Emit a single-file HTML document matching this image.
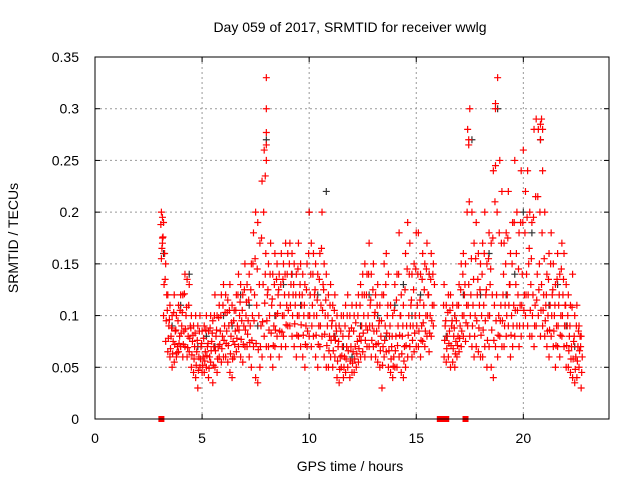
<!DOCTYPE html>
<html><head><meta charset="utf-8"><style>
html,body{margin:0;padding:0;background:#fff;}
svg{display:block;font-family:"Liberation Sans",sans-serif;}
</style></head><body>
<svg id="chart" width="640" height="480" viewBox="0 0 640 480" xmlns="http://www.w3.org/2000/svg">
<rect x="0" y="0" width="640" height="480" fill="#fff"/>
<text x="350" y="32" font-size="14" text-anchor="middle" fill="#000">Day 059 of 2017, SRMTID for receiver wwlg</text>
<text x="350" y="471" font-size="14" text-anchor="middle" fill="#000">GPS time / hours</text>
<text x="18" y="238" font-size="14" text-anchor="middle" fill="#000" transform="rotate(-90 18 238)">SRMTID / TECUs</text>
<g id="grid"></g>
<g id="ticks"></g>
<g id="marks"></g>
<rect x="95" y="57" width="514" height="362" fill="none" stroke="#000" stroke-width="1"/>
</svg>
<script>
const xTicks=[0,5,10,15,20];
const yTicks=[0,0.05,0.1,0.15,0.2,0.25,0.3,0.35];
const yTickLabels=["0","0.05","0.1","0.15","0.2","0.25","0.3","0.35"];
const redTimes=[3.1,3.2,3.3,3.4,3.5,3.6,3.7,3.8,3.9,4.0,4.1,4.2,4.3,4.4,4.5,4.6,4.7,4.8,4.9,5.0,5.1,5.2,5.3,5.4,5.5,5.6,5.7,5.8,5.9,6.0,6.1,6.2,6.3,6.4,6.5,6.6,6.7,6.8,6.9,7.0,7.1,7.2,7.3,7.4,7.5,7.6,7.7,7.8,7.9,8.0,8.1,8.2,8.3,8.4,8.5,8.6,8.7,8.8,8.9,9.0,9.1,9.2,9.3,9.4,9.5,9.6,9.7,9.8,9.9,10.0,10.1,10.2,10.3,10.4,10.5,10.6,10.7,10.8,10.9,11.0,11.1,11.2,11.3,11.4,11.5,11.6,11.7,11.8,11.9,12.0,12.1,12.2,12.3,12.4,12.5,12.6,12.7,12.8,12.9,13.0,13.1,13.2,13.3,13.4,13.5,13.6,13.7,13.8,13.9,14.0,14.1,14.2,14.3,14.4,14.5,14.6,14.7,14.8,14.9,15.0,15.1,15.2,15.3,15.4,15.5,15.6,15.7,15.8,
16.3,16.4,16.5,16.6,16.7,16.8,16.9,17.0,17.1,17.2,17.3,17.4,17.5,17.6,17.7,17.8,17.9,18.0,18.1,18.2,18.3,18.4,18.5,18.6,18.7,18.8,18.9,19.0,19.1,19.2,19.3,19.4,19.5,19.6,19.7,19.8,19.9,20.0,20.1,20.2,20.3,20.4,20.5,20.6,20.7,20.8,20.9,21.0,21.1,21.2,21.3,21.4,21.5,21.6,21.7,21.8,21.9,22.0,22.1,22.2,22.3,22.4,22.5,22.6,22.7];
const redMid=[.175,.16,.12,.09,.08,.075,.085,.07,.08,.09,
.085,.1,.08,.09,.075,.07,.065,.06,.07,.06,
.065,.07,.06,.075,.07,.08,.07,.085,.08,.09,
.085,.09,.08,.075,.085,.09,.1,.095,.09,.1,
.095,.09,.1,.12,.11,.1,.09,.13,.14,.12,
.1,.11,.09,.1,.12,.11,.1,.12,.11,.12,
.13,.12,.11,.1,.12,.11,.1,.09,.1,.12,
.11,.12,.1,.09,.11,.13,.1,.09,.08,.09,
.08,.09,.07,.06,.07,.06,.07,.08,.07,.065,
.07,.075,.08,.09,.1,.09,.1,.11,.09,.1,
.085,.09,.08,.07,.09,.1,.08,.07,.06,.08,
.09,.1,.08,.07,.09,.1,.11,.09,.1,.11,
.1,.09,.11,.1,.12,.1,.11,.13,
.09,.08,.085,.09,.08,.075,.08,.09,
.1,.12,.11,.13,.12,.11,.1,.12,.11,.1,
.11,.12,.1,.13,.12,.11,.12,.1,.11,.12,
.11,.12,.13,.1,.11,.13,.12,.11,.14,.12,
.14,.15,.13,.12,.11,.14,.15,.13,.12,.11,
.1,.11,.12,.1,.09,.11,.1,.12,.11,.09,
.08,.07,.075,.06,.07,.08,.06];
const redHigh=[.2,.19,.15,.12,.11,.1,.12,.1,.11,.12,
.12,.14,.135,.13,.1,.09,.1,.09,.1,.085,
.09,.1,.085,.1,.095,.12,.1,.11,.12,.13,
.12,.115,.13,.11,.105,.12,.14,.13,.12,.15,
.13,.14,.15,.18,.2,.19,.17,.23,.26,.33,
.15,.17,.14,.16,.15,.14,.16,.15,.17,.16,
.17,.16,.15,.14,.17,.15,.14,.13,.15,.2,
.17,.16,.15,.14,.16,.2,.15,.14,.12,.13,
.11,.12,.1,.09,.1,.1,.11,.12,.1,.11,
.1,.11,.12,.13,.14,.15,.14,.17,.14,.15,
.12,.13,.11,.12,.15,.16,.14,.11,.1,.13,
.14,.18,.12,.11,.16,.19,.17,.14,.15,.18,
.18,.14,.16,.15,.17,.14,.16,.15,
.13,.11,.12,.12,.11,.1,.11,.13,
.15,.16,.15,.28,.3,.2,.17,.19,.16,.15,
.17,.2,.15,.18,.17,.24,.3,.33,.25,.22,
.17,.18,.22,.16,.19,.25,.2,.18,.24,.26,
.22,.24,.2,.19,.28,.29,.28,.27,.24,.2,
.14,.16,.18,.15,.13,.16,.14,.17,.16,.13,
.12,.11,.14,.1,.11,.09,.08];
const redLow=[.155,.1,.075,.065,.06,.05,.055,.06,.065,.07,
.06,.07,.06,.065,.05,.045,.04,.03,.05,.045,
.045,.05,.04,.055,.035,.05,.045,.06,.055,.06,
.06,.055,.045,.04,.06,.065,.07,.06,.055,.07,
.07,.06,.05,.07,.04,.035,.05,.06,.08,.07,
.07,.06,.05,.07,.08,.06,.07,.08,.07,.09,
.09,.08,.07,.06,.08,.07,.06,.05,.07,.08,
.07,.08,.06,.05,.07,.08,.06,.05,.05,.06,
.05,.06,.04,.035,.05,.04,.045,.05,.04,.045,
.045,.05,.055,.06,.065,.06,.07,.07,.06,.07,
.06,.055,.05,.03,.06,.065,.05,.045,.04,.05,
.05,.06,.045,.04,.05,.06,.07,.06,.065,.07,
.07,.06,.075,.07,.08,.065,.08,.09,
.06,.055,.06,.05,.055,.05,.06,.065,
.07,.08,.075,.09,.08,.07,.06,.07,.065,.06,
.06,.07,.05,.07,.05,.04,.07,.06,.08,.07,
.07,.08,.09,.06,.07,.08,.09,.07,.08,.09,
.1,.09,.08,.08,.07,.09,.1,.08,.09,.08,
.07,.06,.08,.07,.05,.07,.06,.08,.07,.05,
.05,.045,.04,.035,.04,.05,.03];
const redLowerQuart=[.165,.13,.095,.078,.068,.063,.072,.064,.073,.083,
.072,.087,.069,.078,.062,.058,.052,.047,.058,.052,
.056,.061,.049,.066,.052,.066,.058,.072,.068,.076,
.073,.071,.063,.058,.072,.078,.086,.077,.072,.086,
.082,.074,.076,.095,.073,.067,.07,.094,.112,.095,
.086,.083,.071,.086,.102,.085,.084,.1,.091,.105,
.11,.1,.092,.081,.1,.091,.081,.072,.085,.1,
.09,.1,.081,.072,.09,.105,.082,.071,.066,.076,
.066,.076,.056,.048,.061,.05,.058,.066,.056,.054,
.058,.063,.068,.076,.083,.076,.086,.09,.076,.085,
.072,.073,.066,.052,.076,.083,.066,.058,.051,.066,
.071,.081,.063,.056,.071,.081,.09,.076,.083,.09,
.085,.076,.093,.085,.1,.083,.095,.11,
.076,.068,.073,.071,.068,.063,.071,.078,
.085,.1,.093,.11,.1,.09,.08,.095,.088,.081,
.086,.095,.076,.1,.086,.076,.095,.081,.095,.095,
.09,.1,.11,.081,.09,.105,.105,.09,.11,.105,
.12,.12,.105,.1,.09,.115,.125,.105,.105,.095,
.085,.086,.1,.085,.071,.09,.081,.1,.09,.071,
.066,.058,.058,.048,.056,.066,.045];
const redUpperQuart=[.188,.176,.135,.105,.096,.088,.103,.086,.095,.105,
.103,.121,.108,.11,.088,.081,.083,.076,.085,.073,
.078,.086,.073,.088,.083,.1,.086,.098,.1,.11,
.103,.103,.105,.093,.095,.105,.12,.113,.105,.125,
.113,.115,.125,.15,.155,.145,.13,.175,.2,.16,
.125,.14,.116,.13,.135,.125,.13,.135,.14,.14,
.15,.14,.13,.12,.145,.13,.12,.11,.125,.16,
.14,.14,.125,.115,.135,.165,.125,.115,.1,.11,
.095,.105,.085,.075,.085,.08,.09,.1,.085,.088,
.085,.093,.1,.11,.12,.12,.12,.14,.115,.125,
.103,.11,.095,.095,.12,.13,.11,.09,.08,.105,
.115,.14,.1,.09,.125,.145,.14,.115,.125,.145,
.14,.115,.135,.125,.145,.12,.135,.14,
.11,.095,.103,.105,.095,.088,.095,.11,
.125,.14,.13,.2,.21,.155,.135,.155,.135,.125,
.14,.16,.125,.155,.145,.175,.21,.2,.18,.17,
.14,.15,.175,.13,.15,.19,.16,.145,.19,.19,
.18,.195,.165,.155,.195,.215,.215,.2,.18,.155,
.12,.135,.15,.125,.11,.135,.12,.145,.135,.11,
.1,.09,.108,.08,.09,.085,.07];
const spikeTimes=[8.0,8.0,8.0,8.0,7.95,17.45,17.45,18.7,18.7,20.8,20.9,20.85,3.15,3.15];
const spikeValues=[.3,.277,.265,.25,.235,.27,.265,.305,.245,.285,.28,.29,.195,.17];
const blackTimes=[3.2,3.6,4.0,4.4,4.8,5.2,5.6,6.0,6.4,6.8,7.2,7.6,8.0,8.4,8.8,9.2,9.6,10.0,10.4,10.8,11.2,11.6,12.0,12.4,12.8,13.2,13.6,14.0,14.4,14.8,15.2,15.6,16.4,16.8,17.2,17.6,18.0,18.4,18.8,19.2,19.6,20.0,20.4,20.8,21.2,21.6,22.0,22.4];
const blackValues=[.16,.09,.11,.14,.07,.08,.07,.1,.09,.12,.11,.09,.27,.1,.13,.14,.11,.2,.12,.22,.08,.07,.06,.09,.12,.1,.08,.11,.13,.1,.12,.14,.08,.1,.12,.27,.12,.16,.3,.12,.14,.2,.18,.27,.11,.13,.09,.07];
const gapTimes=[3.1,16.1,16.3,16.4,17.3];
const gapValues=[0,0,0,0,0];

const X0=95,X1=609,Y0=419,Y1=57,XMAX=24,YMAX=0.35;
function xs(t){return X0+(t/XMAX)*(X1-X0);}
function ys(v){return Y0-(v/YMAX)*(Y0-Y1);}
const NS="http://www.w3.org/2000/svg";
function mk(tag,attrs,parent){const e=document.createElementNS(NS,tag);for(const k in attrs)e.setAttribute(k,attrs[k]);parent.appendChild(e);return e;}
const grid=document.getElementById('grid'),ticks=document.getElementById('ticks'),marks=document.getElementById('marks');
xTicks.forEach(t=>{
  const x=xs(t);
  if(t>0){const g=mk('line',{x1:x,y1:Y1,x2:x,y2:Y0,stroke:'#999','stroke-dasharray':'2,3'},grid);
  
  }
  const a=mk('line',{x1:x,y1:Y0,x2:x,y2:Y0-5,stroke:'#000'},ticks);
  
  
  const b=mk('line',{x1:x,y1:Y1,x2:x,y2:Y1+5,stroke:'#000'},ticks);
  
  
  const l=mk('text',{x:x,y:Y0+24,'font-size':14,'text-anchor':'middle',fill:'#000'},ticks);
  l.textContent=String(t);
  
  
});
yTicks.forEach((v,i)=>{
  const y=ys(v);
  if(v>0&&v<YMAX){const g=mk('line',{x1:X0,y1:y,x2:X1,y2:y,stroke:'#999','stroke-dasharray':'2,3'},grid);
  
  }
  const a=mk('line',{x1:X0,y1:y,x2:X0+5,y2:y,stroke:'#000'},ticks);
  
  
  const b=mk('line',{x1:X1,y1:y,x2:X1-5,y2:y,stroke:'#000'},ticks);
  
  
  const l=mk('text',{x:X0-16,y:y+5,'font-size':14,'text-anchor':'end',fill:'#000'},ticks);
  l.textContent=yTickLabels[i];
  
  
});
function cross(t,v,color,name){
  const x=xs(t),y=ys(v);
  const p=mk('path',{d:`M${x-3.5} ${y}H${x+3.5}M${x} ${y-3.5}V${y+3.5}`,stroke:color,'stroke-width':1.2,fill:'none'},marks);
  
  
}
blackTimes.forEach((t,i)=>cross(t,blackValues[i],'#333','black-point'));
redTimes.forEach((t,i)=>{
  cross(t,redLow[i],'#f00','red-point');
  cross(t+0.025,redLowerQuart[i],'#f00','red-point');
  cross(t+0.05,redMid[i],'#f00','red-point');
  cross(t-0.025,redUpperQuart[i],'#f00','red-point');
  cross(t,redHigh[i],'#f00','red-point');
});
spikeTimes.forEach((t,i)=>cross(t,spikeValues[i],'#f00','red-spike-point'));
gapTimes.forEach((t,i)=>{
  const r=mk('rect',{x:xs(t)-3,y:ys(gapValues[i])-3,width:6,height:6,fill:'#f00'},marks);
  
  
});
</script>
</body></html>
